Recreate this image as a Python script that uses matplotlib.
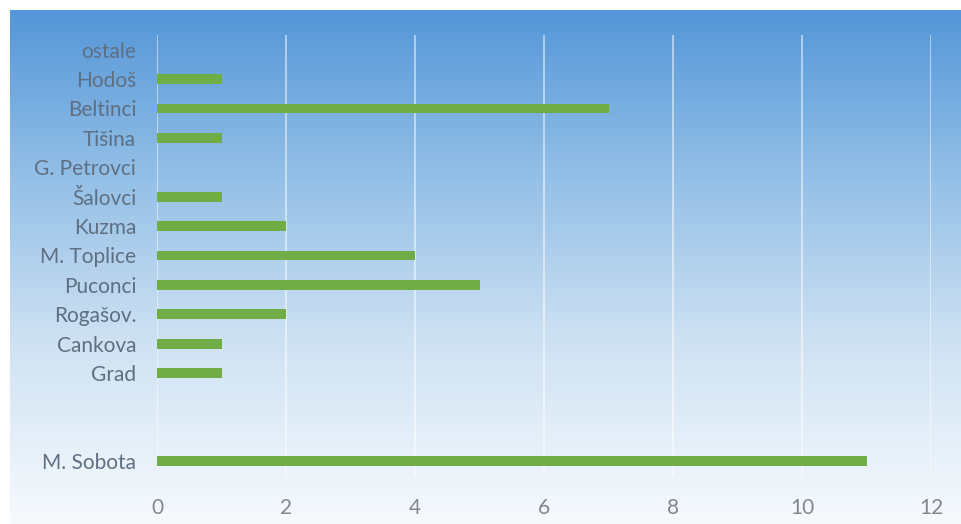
import numpy as np
import matplotlib.pyplot as plt
from matplotlib.colors import LinearSegmentedColormap

# categories bottom -> top (two empty rows between M. Sobota and Grad)
places = ["M. Sobota", "", " ", "Grad", "Cankova", "Rogašov.", "Puconci",
          "M. Toplice", "Kuzma", "Šalovci", "G. Petrovci", "Tišina",
          "Beltinci", "Hodoš", "ostale"]
counts = [11, 0, 0, 1, 1, 2, 5, 4, 2, 1, 0, 1, 7, 1, 0]
xticks = [0, 2, 4, 6, 8, 10, 12]

plt.rcParams['font.family'] = ['Lato', 'DejaVu Sans']

W, H = 961, 524
fig = plt.figure(figsize=(W / 100, H / 100), dpi=100)
fig.patch.set_facecolor("white")

# gradient background panel
bg = fig.add_axes([10 / W, 0, 1 - 10 / W, 1 - 10 / H], zorder=0)
cmap = LinearSegmentedColormap.from_list(
    "bg", [(0.0, "#f7fafd"), (0.35, "#cfe2f3"), (0.7, "#8fbde6"), (1.0, "#5496d8")])
grad = np.linspace(0, 1, 256).reshape(-1, 1)
bg.imshow(grad, aspect="auto", cmap=cmap, origin="lower", extent=[0, 1, 0, 1])
bg.axis("off")

ax = fig.add_axes([157 / W, 1 - 476 / H, (931 - 157) / W, (476 - 35) / H], zorder=1)
ax.patch.set_alpha(0)
y = np.arange(len(places))
ax.barh(y, counts, height=0.34, color="#70ad47", zorder=3)
ax.set_ylim(-0.5, len(places) - 0.5)
ax.set_xlim(0, 12)
ax.set_xticks(xticks)
ax.set_yticks(y)
ax.set_yticklabels(places)
ax.grid(axis="x", color="white", alpha=0.55, linewidth=1.3, zorder=1)
for s in ax.spines.values():
    s.set_visible(False)
ax.tick_params(axis="both", length=0, labelsize=15)
ax.tick_params(axis="x", pad=16, colors="#80878f")
ax.tick_params(axis="y", pad=15, colors="#5f6f82")

fig.savefig("out.png", dpi=100)
